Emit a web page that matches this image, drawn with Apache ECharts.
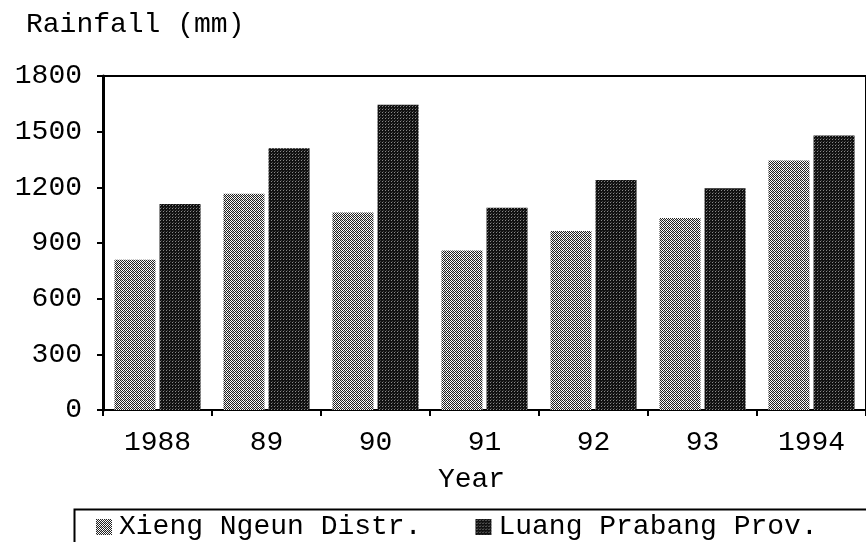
<!DOCTYPE html>
<html>
<head>
<meta charset="utf-8">
<style>
  html, body { margin: 0; padding: 0; background: #fff; }
  #chart { width: 866px; height: 542px; }
</style>
<script src="https://cdn.jsdelivr.net/npm/echarts@6/dist/echarts.min.js"></script>
</head>
<body>
<div id="chart"></div>
<script>
// Annual rainfall, mm
const years = ['1988', '89', '90', '91', '92', '93', '1994'];
const xiengNgeun = [810, 1165, 1065, 860, 965, 1035, 1345];
const luangPrabang = [1110, 1410, 1645, 1090, 1240, 1195, 1480];
const yMin = 0, yMax = 1800, yStep = 300;

const FONT = '"Liberation Mono", "DejaVu Sans Mono", monospace';
const FS = 28;

// Halftone-style fills built from tiny repeating tiles
function tile(size, paint) {
  const c = document.createElement('canvas');
  c.width = size; c.height = size;
  const g = c.getContext('2d');
  paint(g);
  return { image: c, repeat: 'repeat' };
}
const lightFill = tile(4, g => {
  g.fillStyle = '#ffffff'; g.fillRect(0, 0, 4, 4);
  g.fillStyle = '#222222';
  g.fillRect(0, 0, 1, 1); g.fillRect(2, 0, 1, 1);
  g.fillRect(1, 1, 1, 1); g.fillRect(3, 1, 1, 1);
  g.fillRect(0, 2, 1, 1); g.fillRect(2, 2, 1, 1);
  g.fillRect(1, 3, 1, 1); g.fillRect(3, 3, 1, 1);
  g.fillStyle = '#d0d0d0';
  g.fillRect(1, 0, 1, 1); g.fillRect(0, 3, 1, 1);
});
const darkFill = tile(3, g => {
  g.fillStyle = '#111111'; g.fillRect(0, 0, 3, 3);
  g.fillStyle = '#8a8a8a'; g.fillRect(1, 1, 1, 1);
  g.fillStyle = '#444444'; g.fillRect(2, 0, 1, 1);
});

const chart = echarts.init(document.getElementById('chart'), null, { renderer: 'canvas' });
chart.setOption({
  animation: false,
  backgroundColor: '#ffffff',
  title: {
    text: 'Rainfall (mm)',
    left: 21, top: 6,
    textStyle: { fontFamily: FONT, fontSize: FS, fontWeight: 'normal', color: '#000' }
  },
  // frame around the legend, running past the right edge
  graphic: [{
    type: 'rect',
    left: 72, top: 507,
    shape: { width: 840, height: 70 },
    style: { fill: 'none', stroke: '#000', lineWidth: 2 },
    silent: true
  }],
  legend: {
    left: 96, top: 513,
    padding: 0,
    itemWidth: 16, itemHeight: 16, itemGap: 54,
    icon: 'rect',
    textStyle: { fontFamily: FONT, fontSize: FS, color: '#000', padding: [0, 0, 0, 2] },
    data: ['Xieng Ngeun Distr.', 'Luang Prabang Prov.']
  },
  grid: {
    left: 103, top: 76, height: 334, width: 771,
    show: true, borderColor: '#000', borderWidth: 2, backgroundColor: 'transparent'
  },
  xAxis: {
    type: 'category',
    data: years,
    boundaryGap: true,
    name: 'Year',
    nameLocation: 'middle',
    nameGap: 56,
    nameTextStyle: { fontFamily: FONT, fontSize: FS, color: '#000', padding: [0, 26, 0, 0] },
    axisLine: { lineStyle: { color: '#000', width: 2 } },
    axisTick: { show: true, length: 6, lineStyle: { color: '#000', width: 2 } },
    axisLabel: { fontFamily: FONT, fontSize: FS, color: '#000', margin: 19 }
  },
  yAxis: {
    type: 'value',
    min: yMin, max: yMax, interval: yStep,
    axisLine: { show: true, lineStyle: { color: '#000', width: 3 } },
    axisTick: { show: true, length: 6, lineStyle: { color: '#000', width: 2 } },
    axisLabel: {
      fontFamily: FONT, fontSize: FS, color: '#000', margin: 21,
      formatter: v => String(v)
    },
    splitLine: { show: false }
  },
  series: [
    {
      name: 'Xieng Ngeun Distr.',
      type: 'bar',
      data: xiengNgeun,
      barWidth: 41,
      barGap: '10%',
      itemStyle: { color: lightFill }
    },
    {
      name: 'Luang Prabang Prov.',
      type: 'bar',
      data: luangPrabang,
      barWidth: 41,
      itemStyle: { color: darkFill }
    }
  ]
});
</script>
</body>
</html>
